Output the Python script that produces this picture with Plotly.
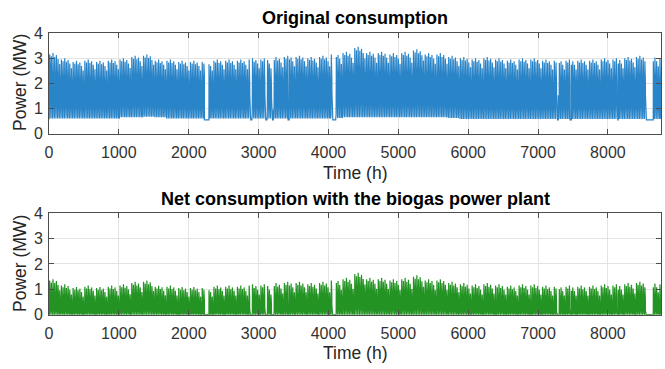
import numpy as np
import plotly.graph_objects as go

# ---- data ----
HOURS = 8760
# normalised working-day load shape (0 = night base, 1 = daily peak), hours 0..23
daily_profile = [0.0, 0.0, 0.0, 0.0, 0.02, 0.05, 0.3, 0.75, 0.95, 1.0, 0.97, 0.97,
                 0.9, 0.95, 0.97, 0.93, 0.8, 0.6, 0.4, 0.25, 0.15, 0.08, 0.03, 0.0]
# relative peak for each day of the week
weekday_factor = [1.0, 0.97, 1.02, 0.96, 0.99, 0.93, 0.85]
# weekly peak level of the original consumption (MW), weeks 0..52
weekly_peak = [3.15, 2.95, 2.85, 2.9, 2.85, 2.9, 2.95, 3.05, 3.1, 2.9,
               2.9, 2.85, 2.85, 2.85, 2.9, 2.9, 2.9, 2.95, 2.95, 3.0,
               3.05, 3.05, 3.0, 3.05, 3.15, 3.2, 3.4, 3.2, 3.2, 3.15,
               3.2, 3.3, 3.15, 3.15, 3.05, 3.0, 2.95, 3.0, 2.95, 2.9,
               2.95, 2.95, 2.9, 2.9, 2.9, 2.9, 2.9, 2.95, 2.95, 3.0,
               3.05, 3.05, 3.0]
# weekly night base level (MW)
weekly_trough = [0.6, 0.6, 0.6, 0.6, 0.6, 0.6, 0.65, 0.65, 0.67, 0.65,
                 0.6, 0.6, 0.6, 0.6, 0.6, 0.6, 0.6, 0.6, 0.6, 0.6,
                 0.6, 0.6, 0.6, 0.6, 0.62, 0.65, 0.65, 0.65, 0.65, 0.65,
                 0.65, 0.65, 0.65, 0.65, 0.62, 0.58, 0.58, 0.58, 0.58, 0.58,
                 0.58, 0.58, 0.58, 0.58, 0.58, 0.58, 0.58, 0.58, 0.58, 0.58,
                 0.58, 0.58, 0.58]
# shut-down periods (start hour, end hour)
holidays = [(2225, 2290), (2885, 2905), (3100, 3120), (3195, 3212), (3422, 3438),
            (4060, 4105), (7272, 7290), (7458, 7478), (8132, 8148), (8550, 8650)]
holiday_level = 0.55
biogas_output = 1.8  # MW supplied by the biogas plant

x_ticks = [0, 1000, 2000, 3000, 4000, 5000, 6000, 7000, 8000]
y_ticks = [0, 1, 2, 3, 4]

# ---- build hourly series from the read values ----
h = np.arange(HOURS)
prof = np.array(daily_profile)[h % 24] * np.array(weekday_factor)[(h // 24) % 7]
peak = np.array(weekly_peak)[h // 168]
base = np.array(weekly_trough)[h // 168]
original = base + (peak - base) * prof
for a, b in holidays:
    original[a:b] = holiday_level
net = np.clip(original - biogas_output, 0, None)

fig = go.Figure()
fig.add_trace(go.Scatter(x=h, y=original, mode="lines",
                         line=dict(color="#2a84c8", width=1.2),
                         xaxis="x", yaxis="y", showlegend=False))
fig.add_trace(go.Scatter(x=h, y=net, mode="lines",
                         line=dict(color="#239323", width=1.2),
                         xaxis="x2", yaxis="y2", showlegend=False))

font_family = "Liberation Sans, Arial, sans-serif"
axis_common = dict(showline=True, linecolor="#4d4d4d", linewidth=1, mirror="allticks",
                   ticks="inside", ticklen=5, tickcolor="#4d4d4d",
                   showgrid=True, gridcolor="#e3e3e3", gridwidth=1, zeroline=False,
                   tickfont=dict(family=font_family, size=16, color="#333333"))

fig.update_layout(
    width=665, height=369,
    margin=dict(l=49, r=4, t=33, b=54, autoexpand=False),
    paper_bgcolor="white", plot_bgcolor="white",
    xaxis=dict(domain=[0, 1], range=[0, HOURS], tickvals=x_ticks, anchor="y",
               ticklabelstandoff=4, **axis_common),
    yaxis=dict(domain=[0.643, 1], range=[0, 4], tickvals=y_ticks, anchor="x",
               ticklabelstandoff=2, **axis_common),
    xaxis2=dict(domain=[0, 1], range=[0, HOURS], tickvals=x_ticks, anchor="y2",
                ticklabelstandoff=4, **axis_common),
    yaxis2=dict(domain=[0.001, 0.361], range=[0, 4], tickvals=y_ticks, anchor="x2",
                ticklabelstandoff=2, **axis_common),
)

H = 282.0
def py(ypx):
    return (315 - ypx) / H

ann = []
tfont = dict(family=font_family, size=18, color="#000000")
lfont = dict(family=font_family, size=17.5, color="#262626")
ann.append(dict(text="<b>Original consumption</b>", x=0.5, y=py(18), font=tfont))
ann.append(dict(text="<b>Net consumption with the biogas power plant</b>", x=0.5, y=py(199), font=tfont))
ann.append(dict(text="Time (h)", x=0.5, y=py(173), font=lfont))
ann.append(dict(text="Time (h)", x=0.5, y=py(353), font=lfont))
ann.append(dict(text="Power (MW)", x=(20 - 49) / 612, y=py(83), textangle=-90, font=lfont))
ann.append(dict(text="Power (MW)", x=(20 - 49) / 612, y=py(264), textangle=-90, font=lfont))
for a in ann:
    a.update(xref="paper", yref="paper", showarrow=False, xanchor="center", yanchor="middle")
fig.update_layout(annotations=ann)

fig.write_html("out.html", config={"displayModeBar": False},
               post_script="document.body.style.margin='0px';")
